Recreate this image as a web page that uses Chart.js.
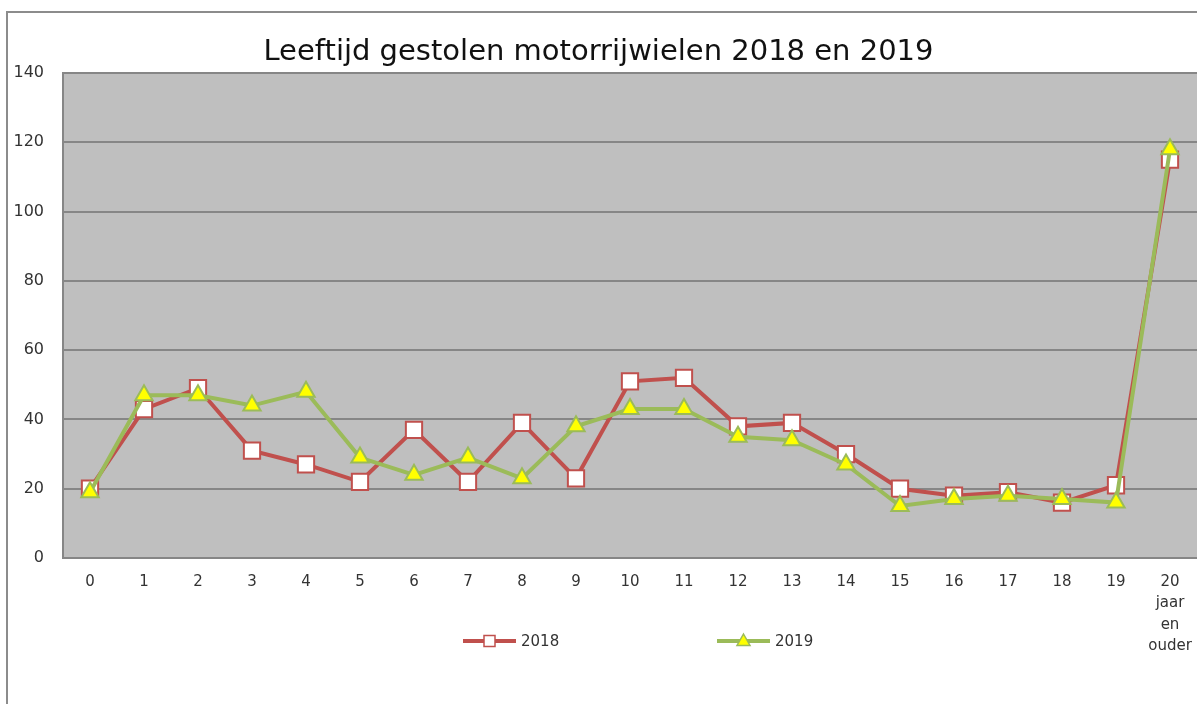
<!DOCTYPE html>
<html>
<head>
<meta charset="utf-8">
<script src="https://cdn.jsdelivr.net/npm/chart.js"></script>
<style>
  html, body { margin: 0; padding: 0; background: #fff; overflow: hidden; }
  #rand { position: absolute; left: 6px; top: 11px; width: 1400px; height: 900px;
          border-left: 2px solid #8c8c8c; border-top: 2px solid #8c8c8c; }
  #wrap { position: absolute; left: 0; top: 0; width: 1197px; height: 704px; }
</style>
</head>
<body>
<div id="rand"></div>
<div id="wrap"><canvas id="grafiek"></canvas></div>
<script>
// Leeftijd (jaren) van gestolen motorrijwielen
const leeftijden = ['0', '1', '2', '3', '4', '5', '6', '7', '8', '9', '10',
  '11', '12', '13', '14', '15', '16', '17', '18', '19', ['20', 'jaar', 'en', 'ouder']];
const aantal2018 = [20, 43, 49, 31, 27, 22, 37, 22, 39, 23, 51, 52, 38, 39, 30, 20, 18, 19, 16, 21, 115];
const aantal2019 = [19, 47, 47, 44, 48, 29, 24, 29, 23, 38, 43, 43, 35, 34, 27, 15, 17, 18, 17, 16, 118];
const yMin = 0;
const yMax = 140;
const yStap = 20;

const FONT = "'DejaVu Sans', sans-serif";
const grijs = '#868686';

// grijze achtergrond van het plotgebied
const plotAchtergrond = {
  id: 'plotAchtergrond',
  beforeDraw(chart) {
    const { ctx, chartArea: a } = chart;
    ctx.save();
    ctx.fillStyle = '#bfbfbf';
    ctx.fillRect(a.left, a.top, a.right - a.left, a.bottom - a.top);
    ctx.restore();
  }
};

// legenda zoals in Excel: lijn met marker in het midden
const eigenLegenda = {
  id: 'eigenLegenda',
  afterDraw(chart) {
    const ctx = chart.ctx;
    const posities = [463, 717]; // begin van elke legendalijn
    const y = 641;
    chart.data.datasets.forEach((ds, i) => {
      const x0 = posities[i];
      const x1 = x0 + 53;
      const mx = (x0 + x1) / 2;
      ctx.save();
      ctx.strokeStyle = ds.borderColor;
      ctx.lineWidth = ds.borderWidth;
      ctx.beginPath();
      ctx.moveTo(x0, y);
      ctx.lineTo(x1, y);
      ctx.stroke();
      ctx.fillStyle = ds.pointBackgroundColor;
      ctx.strokeStyle = ds.pointBorderColor;
      ctx.lineWidth = 1.5;
      ctx.beginPath();
      if (ds.pointStyle === 'rect') {
        ctx.rect(mx - 5.5, y - 5.5, 11, 11);
      } else {
        ctx.moveTo(mx, y - 7);
        ctx.lineTo(mx + 6.5, y + 4.5);
        ctx.lineTo(mx - 6.5, y + 4.5);
        ctx.closePath();
      }
      ctx.fill();
      ctx.stroke();
      ctx.fillStyle = '#333';
      ctx.font = '15px ' + FONT;
      ctx.textBaseline = 'middle';
      ctx.fillText(ds.label, x1 + 5, y + 1);
      ctx.restore();
    });
  }
};

new Chart(document.getElementById('grafiek'), {
  type: 'line',
  data: {
    labels: leeftijden,
    datasets: [
      {
        label: '2018',
        data: aantal2018,
        borderColor: '#c0504d',
        borderWidth: 4,
        pointStyle: 'rect',
        pointRadius: 11.5,
        pointHoverRadius: 11.5,
        pointBackgroundColor: '#ffffff',
        pointBorderColor: '#c0504d',
        pointBorderWidth: 2,
        tension: 0,
        order: 1
      },
      {
        label: '2019',
        data: aantal2019,
        borderColor: '#9bbb59',
        borderWidth: 4,
        pointStyle: 'triangle',
        pointRadius: 10,
        pointHoverRadius: 10,
        pointBackgroundColor: '#ffff00',
        pointBorderColor: '#9bbb59',
        pointBorderWidth: 2,
        tension: 0,
        order: 0
      }
    ]
  },
  options: {
    responsive: true,
    maintainAspectRatio: false,
    animation: false,
    layout: { padding: 0, autoPadding: false },
    plugins: {
      legend: { display: false },
      tooltip: { enabled: false },
      title: {
        display: true,
        text: 'Leeftijd gestolen motorrijwielen 2018 en 2019',
        color: '#111',
        font: { family: FONT, size: 29, weight: 'normal', lineHeight: 1.0 },
        padding: { top: 38, bottom: 6 }
      }
    },
    scales: {
      x: {
        offset: true,
        grid: { display: false, drawTicks: false },
        border: { display: true, color: grijs, width: 2 },
        ticks: {
          color: '#333',
          font: { family: FONT, size: 15, lineHeight: 1.44 },
          padding: 13,
          maxRotation: 0,
          autoSkip: false
        },
        afterFit(scale) {
          scale.height = 146;
          scale.paddingLeft = 0;
          scale.paddingRight = 0;
        }
      },
      y: {
        min: yMin,
        max: yMax,
        grid: { color: grijs, lineWidth: 2, drawTicks: false },
        border: { display: true, color: grijs, width: 2 },
        ticks: {
          stepSize: yStap,
          color: '#333',
          font: { family: FONT, size: 16 },
          padding: 19
        },
        afterFit(scale) {
          scale.width = 63;
          scale.paddingTop = 0;
          scale.paddingBottom = 0;
        }
      }
    }
  },
  plugins: [plotAchtergrond, eigenLegenda]
});
</script>
</body>
</html>
